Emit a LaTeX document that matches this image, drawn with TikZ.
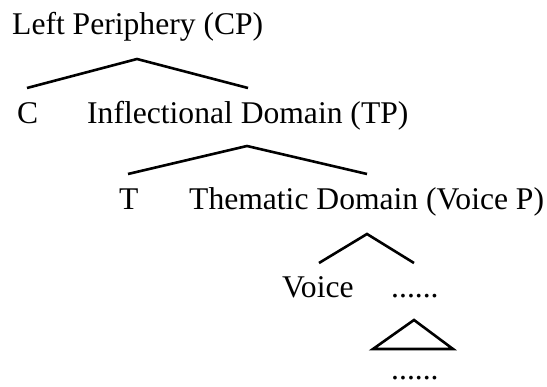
\documentclass[tikz,border=0pt]{standalone}
\usepackage{fontspec}
\setmainfont{Liberation Serif}
\begin{document}
\begin{tikzpicture}[x=1pt,y=-1pt,
  lbl/.style={anchor=base west,inner sep=0pt,font=\fontsize{31.6}{36}\selectfont},
  branch/.style={line width=2.6pt,line join=miter,line cap=butt}]
\useasboundingbox (0,0) rectangle (547,387);
% labels
\node[lbl] (cp) at (12,35) {Left Periphery (CP)};
\node[lbl] (c) at (17,124) {C};
\node[lbl] (tp) at (87,124) {Inflectional Domain (TP)};
\node[lbl] (t) at (119,210) {T};
\node[lbl] (vp) at (189,210) {Thematic Domain (Voice P)};
\node[lbl] (voice) at (282,298) {Voice};
\node[lbl] (comp) at (391,298) {......};
\node[lbl] (low) at (391,380) {......};
% branch points
\coordinate (a1) at (137,59);  \coordinate (l1) at (27,88);  \coordinate (r1) at (248,88);
\coordinate (a2) at (247,146); \coordinate (l2) at (128,174); \coordinate (r2) at (367,174);
\coordinate (a3) at (367,234); \coordinate (l3) at (319,263); \coordinate (r3) at (414,263);
\coordinate (a4) at (414,320); \coordinate (l4) at (373,349); \coordinate (r4) at (453,349);
% branches
\draw[branch] (l1) -- (a1) -- (r1);
\draw[branch] (l2) -- (a2) -- (r2);
\draw[branch] (l3) -- (a3) -- (r3);
\draw[branch] (a4) -- (l4) -- (r4) -- cycle;
\end{tikzpicture}
\end{document}
